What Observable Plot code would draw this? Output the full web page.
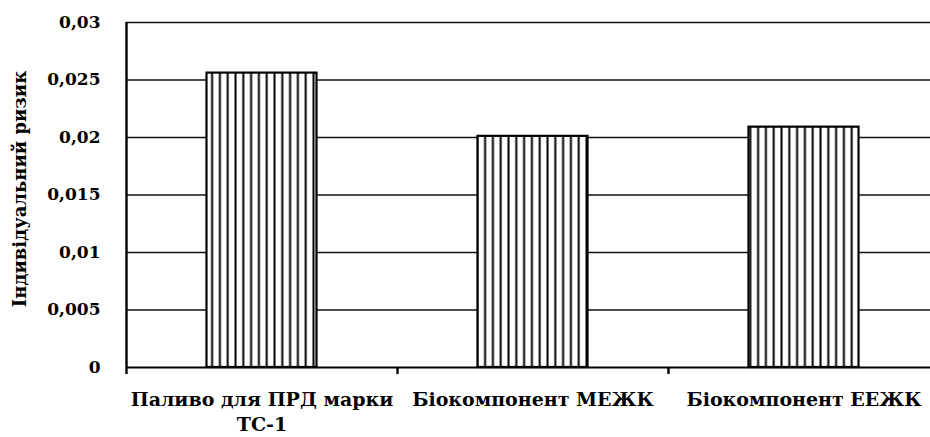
<!DOCTYPE html>
<html>
<head>
<meta charset="utf-8">
<script src="https://cdn.jsdelivr.net/npm/d3@7"></script>
<script src="https://cdn.jsdelivr.net/npm/@observablehq/plot@0.6"></script>
<style>
  html, body { margin: 0; padding: 0; background: #fff; }
  #chart svg { display: block; }
</style>
</head>
<body>
<div id="chart"></div>
<script>
const categories = ["Паливо для ПРД марки\nТС-1", "Біокомпонент МЕЖК", "Біокомпонент ЕЕЖК"];
const risk = [0.0256, 0.0201, 0.0209];
const yTicks = [0, 0.005, 0.01, 0.015, 0.02, 0.025, 0.03];
const yTitle = "Індивідуальний ризик";

const data = categories.map((c, i) => ({i, c, v: risk[i]}));
const barW = 0.406;
const font = "'DejaVu Serif', serif";

const chart = Plot.plot({
  width: 930,
  height: 437,
  marginLeft: 126,
  marginTop: 22,
  marginBottom: 70,
  marginRight: 0,
  style: {fontFamily: font, fontSize: "16px", fontWeight: "bold", color: "#000", background: "#fff", overflow: "visible"},
  x: {domain: [0, 3], range: [126, 939]},
  y: {domain: [0, 0.03]},
  marks: [
    Plot.ruleY(yTicks.filter(t => t > 0), {stroke: "#111", strokeWidth: 1.6}),
    Plot.rectY(data, {x1: d => d.i + 0.5 - barW / 2, x2: d => d.i + 0.5 + barW / 2, y1: 0, y2: "v",
      fill: "url(#vstripes)", stroke: "#000", strokeWidth: 2.2}),
    Plot.ruleY([0], {stroke: "#000", strokeWidth: 2}),
    Plot.ruleX([0], {stroke: "#000", strokeWidth: 2.4}),
    Plot.axisY({ticks: yTicks, tickSize: 8, tickPadding: 18, tickFormat: t => String(t).replace(".", ","),
      label: null, fontSize: 17, fontWeight: "bold", stroke: null, strokeWidth: 2}),
    Plot.axisX({ticks: [0, 1, 2, 3], tickSize: 7, tickFormat: () => "", label: null, strokeWidth: 2.4}),
    Plot.text(data, {x: d => d.i + 0.5, y: 0, text: "c", lineAnchor: "top", dy: 21, lineHeight: 1.32,
      fontSize: 19, fontWeight: "bold", fill: "#000"}),
    Plot.text([yTitle], {text: d => d, frameAnchor: "left", textAnchor: "middle", rotate: -90, dx: -106, dy: -6,
      fontSize: 18, fontWeight: "bold", fill: "#000"})
  ]
});

const ns = "http://www.w3.org/2000/svg";
const defs = document.createElementNS(ns, "defs");
const pat = document.createElementNS(ns, "pattern");
pat.setAttribute("id", "vstripes");
pat.setAttribute("patternUnits", "userSpaceOnUse");
pat.setAttribute("width", "7.8");
pat.setAttribute("height", "10");
const bg = document.createElementNS(ns, "rect");
bg.setAttribute("width", "7.8"); bg.setAttribute("height", "10"); bg.setAttribute("fill", "#fff");
const ln = document.createElementNS(ns, "rect");
ln.setAttribute("x", "0.5"); ln.setAttribute("width", "2"); ln.setAttribute("height", "10"); ln.setAttribute("fill", "#000");
pat.appendChild(bg); pat.appendChild(ln);
defs.appendChild(pat);
chart.insertBefore(defs, chart.firstChild);

document.getElementById("chart").appendChild(chart);
</script>
</body>
</html>
